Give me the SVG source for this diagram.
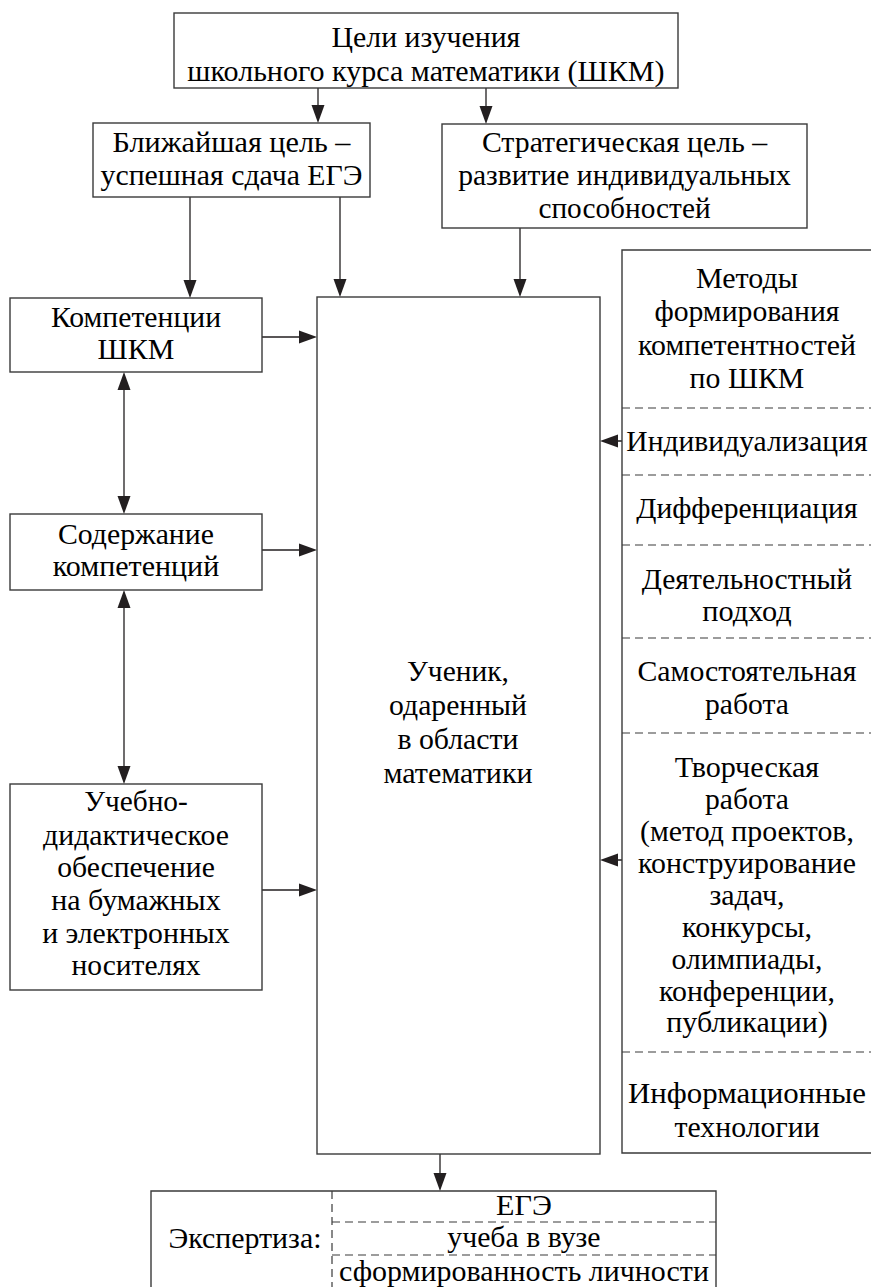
<svg xmlns="http://www.w3.org/2000/svg" width="871" height="1287" viewBox="0 0 871 1287" style="font-family:'Liberation Serif',serif">
<style>
.b{fill:#fff;stroke:#3a3a3a;stroke-width:1.4}
.o{fill:none;stroke:#3a3a3a;stroke-width:1.4}
.l{fill:none;stroke:#231f20;stroke-width:1.3}
.h{fill:#231f20;stroke:none}
.d{fill:none;stroke:#3a3a3a;stroke-width:1.2;stroke-dasharray:8 5}
</style>
<rect width="871" height="1287" fill="#fff"/>
<g id="connectors">
<path class="l" d="M318,88 V106 M486,88 V107 M190,197 V281 M340,197 V280 M520,228 V280 M262,337 H300 M262,550 H300 M262,890 H300 M124,388 V498 M124,606 V768 M622,441 H617 M622,860 H617 M440,1154 V1174"/>
<polygon class="h" points="311.5,105 324.5,105 318,123"/>
<polygon class="h" points="479.5,106 492.5,106 486,124"/>
<polygon class="h" points="183.5,280 196.5,280 190,298"/>
<polygon class="h" points="333.5,279 346.5,279 340,297"/>
<polygon class="h" points="513.5,279 526.5,279 520,297"/>
<polygon class="h" points="299,330.5 299,343.5 317,337"/>
<polygon class="h" points="299,543.5 299,556.5 317,550"/>
<polygon class="h" points="299,883.5 299,896.5 317,890"/>
<polygon class="h" points="117.5,390 130.5,390 124,372"/>
<polygon class="h" points="117.5,496 130.5,496 124,514"/>
<polygon class="h" points="117.5,608 130.5,608 124,590"/>
<polygon class="h" points="117.5,766 130.5,766 124,784"/>
<polygon class="h" points="618,434.5 618,447.5 600,441"/>
<polygon class="h" points="618,853.5 618,866.5 600,860"/>
<polygon class="h" points="433.5,1173 446.5,1173 440,1191"/>
</g>
<g font-size="29.5">
<g id="goals">
<rect class="b" x="174" y="13" width="504" height="75"/>
<text x="331.6" y="47" font-family="Liberation Serif" style="font-family:'Liberation Serif',serif !important" textLength="188.7" lengthAdjust="spacingAndGlyphs">Цели изучения</text>
<text x="187.3" y="81" font-family="Liberation Serif" style="font-family:'Liberation Serif',serif !important" textLength="477.3" lengthAdjust="spacingAndGlyphs">школьного курса математики (ШКМ)</text>
</g>
<g id="near">
<rect class="b" x="93" y="123" width="277" height="74"/>
<text x="112.5" y="152" font-family="Liberation Serif" style="font-family:'Liberation Serif',serif !important" textLength="238" lengthAdjust="spacingAndGlyphs">Ближайшая цель –</text>
<text x="100.5" y="185" font-family="Liberation Serif" style="font-family:'Liberation Serif',serif !important" textLength="262" lengthAdjust="spacingAndGlyphs">успешная сдача ЕГЭ</text>
</g>
<g id="strategic">
<rect class="b" x="442" y="124" width="365" height="104"/>
<text x="481.9" y="152" font-family="Liberation Serif" style="font-family:'Liberation Serif',serif !important" textLength="285.2" lengthAdjust="spacingAndGlyphs">Стратегическая цель –</text>
<text x="458.2" y="185" font-family="Liberation Serif" style="font-family:'Liberation Serif',serif !important" textLength="332.6" lengthAdjust="spacingAndGlyphs">развитие индивидуальных</text>
<text x="538.4" y="218" font-family="Liberation Serif" style="font-family:'Liberation Serif',serif !important" textLength="172.2" lengthAdjust="spacingAndGlyphs">способностей</text>
</g>
<g id="competencies">
<rect class="b" x="10" y="298" width="252" height="74"/>
<text x="51" y="327" font-family="Liberation Serif" style="font-family:'Liberation Serif',serif !important" textLength="170" lengthAdjust="spacingAndGlyphs">Компетенции</text>
<text x="97.6" y="359" font-family="Liberation Serif" style="font-family:'Liberation Serif',serif !important" textLength="76.8" lengthAdjust="spacingAndGlyphs">ШКМ</text>
</g>
<g id="content">
<rect class="b" x="10" y="514" width="252" height="76"/>
<text x="58" y="544" font-family="Liberation Serif" style="font-family:'Liberation Serif',serif !important" textLength="155.9" lengthAdjust="spacingAndGlyphs">Содержание</text>
<text x="52.8" y="576" font-family="Liberation Serif" style="font-family:'Liberation Serif',serif !important" textLength="166.4" lengthAdjust="spacingAndGlyphs">компетенций</text>
</g>
<g id="support">
<rect class="b" x="10" y="784" width="252" height="206"/>
<text x="84.2" y="811" font-family="Liberation Serif" style="font-family:'Liberation Serif',serif !important" textLength="103.6" lengthAdjust="spacingAndGlyphs">Учебно-</text>
<text x="43.1" y="845" font-family="Liberation Serif" style="font-family:'Liberation Serif',serif !important" textLength="185.8" lengthAdjust="spacingAndGlyphs">дидактическое</text>
<text x="57.2" y="877" font-family="Liberation Serif" style="font-family:'Liberation Serif',serif !important" textLength="157.6" lengthAdjust="spacingAndGlyphs">обеспечение</text>
<text x="51.3" y="910" font-family="Liberation Serif" style="font-family:'Liberation Serif',serif !important" textLength="169.4" lengthAdjust="spacingAndGlyphs">на бумажных</text>
<text x="42.2" y="943" font-family="Liberation Serif" style="font-family:'Liberation Serif',serif !important" textLength="187.5" lengthAdjust="spacingAndGlyphs">и электронных</text>
<text x="71.4" y="975" font-family="Liberation Serif" style="font-family:'Liberation Serif',serif !important" textLength="129.2" lengthAdjust="spacingAndGlyphs">носителях</text>
</g>
<g id="student">
<rect class="b" x="317" y="297" width="283" height="857"/>
<text x="407" y="681" font-family="Liberation Serif" style="font-family:'Liberation Serif',serif !important" textLength="101.9" lengthAdjust="spacingAndGlyphs">Ученик,</text>
<text x="389.1" y="715" font-family="Liberation Serif" style="font-family:'Liberation Serif',serif !important" textLength="137.8" lengthAdjust="spacingAndGlyphs">одаренный</text>
<text x="397.4" y="749" font-family="Liberation Serif" style="font-family:'Liberation Serif',serif !important" textLength="121.1" lengthAdjust="spacingAndGlyphs">в области</text>
<text x="383.4" y="783" font-family="Liberation Serif" style="font-family:'Liberation Serif',serif !important" textLength="149.2" lengthAdjust="spacingAndGlyphs">математики</text>
</g>
<g id="methods">
<path class="o" d="M871,250 H622 V1153 H871"/>
<path class="d" d="M622,408 H871 M622,475 H871 M622,545 H871 M622,638 H871 M622,733 H871 M622,1052 H871"/>
<text x="696" y="288" font-family="Liberation Serif" style="font-family:'Liberation Serif',serif !important" textLength="101.9" lengthAdjust="spacingAndGlyphs">Методы</text>
<text x="654.4" y="321" font-family="Liberation Serif" style="font-family:'Liberation Serif',serif !important" textLength="185.1" lengthAdjust="spacingAndGlyphs">формирования</text>
<text x="638.1" y="355" font-family="Liberation Serif" style="font-family:'Liberation Serif',serif !important" textLength="217.8" lengthAdjust="spacingAndGlyphs">компетентностей</text>
<text x="689.6" y="388" font-family="Liberation Serif" style="font-family:'Liberation Serif',serif !important" textLength="114.7" lengthAdjust="spacingAndGlyphs">по ШКМ</text>
<text x="626.3" y="451" font-family="Liberation Serif" style="font-family:'Liberation Serif',serif !important" textLength="241.3" lengthAdjust="spacingAndGlyphs">Индивидуализация</text>
<text x="636.3" y="518" font-family="Liberation Serif" style="font-family:'Liberation Serif',serif !important" textLength="221.3" lengthAdjust="spacingAndGlyphs">Дифференциация</text>
<text x="641.7" y="589" font-family="Liberation Serif" style="font-family:'Liberation Serif',serif !important" textLength="210.5" lengthAdjust="spacingAndGlyphs">Деятельностный</text>
<text x="702.2" y="621" font-family="Liberation Serif" style="font-family:'Liberation Serif',serif !important" textLength="89.6" lengthAdjust="spacingAndGlyphs">подход</text>
<text x="637.5" y="681" font-family="Liberation Serif" style="font-family:'Liberation Serif',serif !important" textLength="219" lengthAdjust="spacingAndGlyphs">Самостоятельная</text>
<text x="705" y="714" font-family="Liberation Serif" style="font-family:'Liberation Serif',serif !important" textLength="83.9" lengthAdjust="spacingAndGlyphs">работа</text>
<text x="674.8" y="777" font-family="Liberation Serif" style="font-family:'Liberation Serif',serif !important" textLength="144.4" lengthAdjust="spacingAndGlyphs">Творческая</text>
<text x="705" y="809" font-family="Liberation Serif" style="font-family:'Liberation Serif',serif !important" textLength="83.9" lengthAdjust="spacingAndGlyphs">работа</text>
<text x="640" y="841" font-family="Liberation Serif" style="font-family:'Liberation Serif',serif !important" textLength="213.9" lengthAdjust="spacingAndGlyphs">(метод проектов,</text>
<text x="638" y="873" font-family="Liberation Serif" style="font-family:'Liberation Serif',serif !important" textLength="218" lengthAdjust="spacingAndGlyphs">конструирование</text>
<text x="709.4" y="905" font-family="Liberation Serif" style="font-family:'Liberation Serif',serif !important" textLength="75.2" lengthAdjust="spacingAndGlyphs">задач,</text>
<text x="682" y="937" font-family="Liberation Serif" style="font-family:'Liberation Serif',serif !important" textLength="130" lengthAdjust="spacingAndGlyphs">конкурсы,</text>
<text x="671.5" y="969" font-family="Liberation Serif" style="font-family:'Liberation Serif',serif !important" textLength="150.9" lengthAdjust="spacingAndGlyphs">олимпиады,</text>
<text x="659" y="1001" font-family="Liberation Serif" style="font-family:'Liberation Serif',serif !important" textLength="175.9" lengthAdjust="spacingAndGlyphs">конференции,</text>
<text x="666.3" y="1032" font-family="Liberation Serif" style="font-family:'Liberation Serif',serif !important" textLength="161.4" lengthAdjust="spacingAndGlyphs">публикации)</text>
<text x="628" y="1103" font-family="Liberation Serif" style="font-family:'Liberation Serif',serif !important" textLength="238" lengthAdjust="spacingAndGlyphs">Информационные</text>
<text x="674.4" y="1137" font-family="Liberation Serif" style="font-family:'Liberation Serif',serif !important" textLength="145.2" lengthAdjust="spacingAndGlyphs">технологии</text>
</g>
<g id="expertise">
<path class="o" d="M151,1287 V1191 H716 V1287"/>
<path class="d" d="M332,1191 V1287 M332,1222 H716 M332,1255 H716"/>
<text x="168.4" y="1248" font-family="Liberation Serif" style="font-family:'Liberation Serif',serif !important" textLength="153.1" lengthAdjust="spacingAndGlyphs">Экспертиза:</text>
<text x="496.1" y="1215" font-family="Liberation Serif" style="font-family:'Liberation Serif',serif !important" textLength="55.7" lengthAdjust="spacingAndGlyphs">ЕГЭ</text>
<text x="447.3" y="1247" font-family="Liberation Serif" style="font-family:'Liberation Serif',serif !important" textLength="153.3" lengthAdjust="spacingAndGlyphs">учеба в вузе</text>
<text x="339" y="1281" font-family="Liberation Serif" style="font-family:'Liberation Serif',serif !important" textLength="370" lengthAdjust="spacingAndGlyphs">сформированность личности</text>
</g>
</g>
</svg>
